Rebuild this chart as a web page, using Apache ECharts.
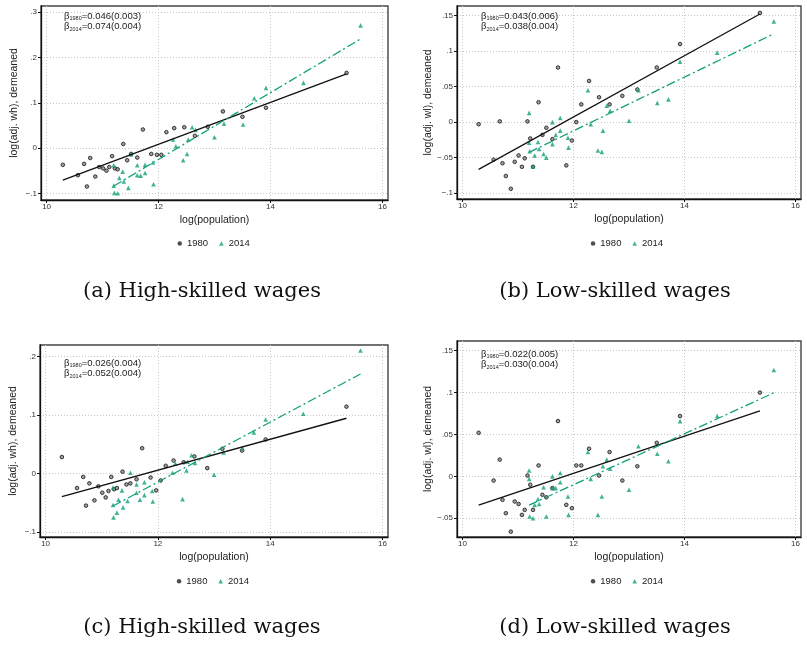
<!DOCTYPE html>
<html><head><meta charset="utf-8">
<script src="https://cdn.jsdelivr.net/npm/echarts@6/dist/echarts.min.js"></script>
<style>html,body{margin:0;padding:0;background:#fff}#c{width:807px;height:645px}</style>
</head><body><div id="c"></div>
<script>
// ---- data ----
const pop1980 = [10.29, 10.56, 10.67, 10.72, 10.78, 10.87, 10.94, 11.01, 11.07, 11.12, 11.17, 11.22, 11.27, 11.37, 11.44, 11.51, 11.62, 11.72, 11.87, 11.97, 12.05, 12.14, 12.28, 12.46, 12.65, 12.88, 13.15, 13.50, 13.92, 15.36];
const pop2014 = [11.20, 11.20, 11.21, 11.27, 11.30, 11.36, 11.38, 11.46, 11.51, 11.62, 11.62, 11.68, 11.76, 11.76, 11.90, 11.91, 12.26, 12.31, 12.44, 12.51, 12.53, 12.60, 12.66, 13.00, 13.17, 13.51, 13.71, 13.92, 14.59, 15.61];

const wageA1980 = [-0.037, -0.060, -0.035, -0.085, -0.022, -0.063, -0.042, -0.045, -0.050, -0.042, -0.018, -0.045, -0.047, 0.009, -0.027, -0.013, -0.021, 0.041, -0.013, -0.015, -0.015, 0.035, 0.044, 0.046, 0.027, 0.047, 0.081, 0.069, 0.089, 0.166];
const wageA2014 = [-0.038, -0.083, -0.099, -0.100, -0.066, -0.052, -0.074, -0.088, -0.014, -0.038, -0.060, -0.061, -0.055, -0.037, -0.032, -0.080, 0.019, 0.004, -0.027, -0.013, 0.019, 0.046, 0.040, 0.024, 0.054, 0.052, 0.110, 0.133, 0.144, 0.271];
const wageB1980 = [-0.003, -0.053, 0.001, -0.058, -0.076, -0.094, -0.056, -0.047, -0.063, -0.051, 0.001, -0.023, -0.063, 0.028, -0.018, -0.008, -0.024, 0.077, -0.061, -0.026, 0.000, 0.025, 0.058, 0.035, 0.025, 0.037, 0.046, 0.077, 0.110, 0.154];
const wageB2014 = [0.013, -0.029, -0.041, -0.063, -0.047, -0.028, -0.038, -0.045, -0.050, 0.000, -0.031, -0.018, 0.006, -0.012, -0.022, -0.036, 0.045, -0.003, -0.040, -0.042, -0.012, 0.023, 0.016, 0.002, 0.045, 0.027, 0.032, 0.085, 0.098, 0.142];
const wageC1980 = [0.028, -0.025, -0.006, -0.055, -0.017, -0.046, -0.022, -0.033, -0.041, -0.030, -0.006, -0.027, -0.025, 0.003, -0.019, -0.017, -0.010, 0.043, -0.007, -0.029, -0.012, 0.013, 0.022, 0.019, 0.029, 0.009, 0.042, 0.039, 0.058, 0.114];
const wageC2014 = [-0.024, -0.054, -0.075, -0.067, -0.045, -0.029, -0.058, -0.047, 0.001, -0.019, -0.033, -0.045, -0.037, -0.015, -0.030, -0.048, 0.001, 0.017, -0.044, 0.005, 0.020, 0.031, 0.018, -0.002, 0.036, 0.043, 0.070, 0.092, 0.102, 0.210];
const wageD1980 = [0.052, -0.005, 0.020, -0.028, -0.044, -0.066, -0.030, -0.033, -0.046, -0.040, 0.001, -0.010, -0.040, 0.013, -0.022, -0.025, -0.014, 0.066, -0.034, -0.038, 0.013, 0.013, 0.033, 0.001, 0.029, -0.005, 0.012, 0.040, 0.072, 0.100];
const wageD2014 = [0.007, -0.003, -0.048, -0.050, -0.034, -0.027, -0.033, -0.013, -0.048, 0.000, -0.014, -0.014, 0.004, -0.007, -0.024, -0.046, 0.029, -0.003, -0.046, -0.024, 0.012, 0.020, 0.009, -0.016, 0.036, 0.027, 0.018, 0.066, 0.072, 0.127];

// fitted lines (slope, intercept) per panel a,b,c,d
const fitSlope1980 = [0.0463, 0.0432, 0.0264, 0.0222];
const fitIntercept1980 = [-0.5474, -0.5112, -0.3113, -0.2628];
const fitSlope2014 = [0.0737, 0.0379, 0.0511, 0.0304];
const fitIntercept2014 = [-0.9094, -0.4671, -0.6279, -0.3748];

const beta1980 = ['0.046(0.003)', '0.043(0.006)', '0.026(0.004)', '0.022(0.005)'];
const beta2014 = ['0.074(0.004)', '0.038(0.004)', '0.052(0.004)', '0.030(0.004)'];

const xTicks = [10, 12, 14, 16];
const yTicksA = [-0.1, 0, 0.1, 0.2, 0.3];
const yTicksB = [-0.1, -0.05, 0, 0.05, 0.1, 0.15];
const yTicksC = [-0.1, 0, 0.1, 0.2];
const yTicksD = [-0.05, 0, 0.05, 0.1, 0.15];

const yTitles = ['log(adj. wh), demeaned', 'log(adj. wl), demeaned', 'log(adj. wh), demeaned', 'log(adj. wl), demeaned'];
const captions = ['(a) High-skilled wages', '(b) Low-skilled wages', '(c) High-skilled wages', '(d) Low-skilled wages'];
const seriesNames = ['1980', '2014'];

// ---- layout ----
const GREEN = '#12a07a';
const TXT = '#222';
const SANS = '"Liberation Sans", Arial, sans-serif';
const layout = [
  {grid: {left: 41, top: 6, width: 347, height: 194}, y: [-0.1148, 0.3139], ticks: yTicksA, w: [wageA1980, wageA2014], cap: [202, 292], leg: [177.5, 238.5], anno: [64, 11]},
  {grid: {left: 457, top: 6, width: 344, height: 193}, y: [-0.1084, 0.1637], ticks: yTicksB, w: [wageB1980, wageB2014], cap: [615, 292], leg: [590.8, 238.5], anno: [481, 11]},
  {grid: {left: 40, top: 345, width: 348, height: 192}, y: [-0.1086, 0.2193], ticks: yTicksC, w: [wageC1980, wageC2014], cap: [202, 628], leg: [176.8, 576.3], anno: [64, 358]},
  {grid: {left: 457, top: 341, width: 344, height: 196}, y: [-0.0724, 0.1616], ticks: yTicksD, w: [wageD1980, wageD2014], cap: [615, 628], leg: [590.8, 576.3], anno: [481, 349]}
];

function fmtTick(v) {
  if (Math.abs(v) < 1e-9) return '0';
  const s = String(Math.abs(v)).replace(/^0/, '');
  return (v < 0 ? '\u2212' : '') + s;
}
function zip(xs, ys) { return xs.map((x, i) => [x, ys[i]]); }
function fitLine(xs, b, a) {
  const lo = Math.min.apply(null, xs), hi = Math.max.apply(null, xs);
  return [[lo, a + b * lo], [hi, a + b * hi]];
}

const grids = [], xAxes = [], yAxes = [], series = [], legends = [], graphics = [];
layout.forEach((p, i) => {
  grids.push(Object.assign({show: true, borderColor: '#444', borderWidth: 1.4, backgroundColor: '#fff', containLabel: false}, p.grid));
  xAxes.push({
    type: 'value', gridIndex: i, min: 9.9, max: 16.1,
    name: 'log(population)', nameLocation: 'middle', nameGap: 15,
    nameTextStyle: {fontFamily: SANS, fontSize: 10.5, color: TXT},
    axisLine: {show: true, onZero: false, lineStyle: {color: '#111', width: 1.3}},
    axisTick: {show: true, length: 3, customValues: xTicks, lineStyle: {color: '#111'}},
    axisLabel: {customValues: xTicks, fontFamily: SANS, fontSize: 8, color: '#333', margin: 3, formatter: v => String(v)},
    splitLine: {show: true, lineStyle: {color: '#c8c8c8', type: [1, 2], width: 1}}
  });
  yAxes.push({
    type: 'value', gridIndex: i, min: p.y[0], max: p.y[1],
    name: yTitles[i], nameLocation: 'middle', nameGap: 21, nameRotate: 90,
    nameTextStyle: {fontFamily: SANS, fontSize: 10.5, color: TXT},
    axisLine: {show: true, onZero: false, lineStyle: {color: '#111', width: 1.3}},
    axisTick: {show: true, length: 3, customValues: p.ticks, lineStyle: {color: '#111'}},
    axisLabel: {customValues: p.ticks, fontFamily: SANS, fontSize: 8, color: '#333', margin: 4, formatter: fmtTick},
    splitLine: {show: true, lineStyle: {color: '#c8c8c8', type: [1, 2], width: 1}}
  });
  series.push({
    name: '1980', type: 'scatter', xAxisIndex: i, yAxisIndex: i, data: zip(pop1980, p.w[0]),
    symbol: 'circle', symbolSize: 3.6,
    itemStyle: {color: '#8a8a8a', borderColor: '#111', borderWidth: 1}
  });
  series.push({
    name: '2014', type: 'scatter', xAxisIndex: i, yAxisIndex: i, data: zip(pop2014, p.w[1]),
    symbol: 'triangle', symbolSize: 4.6,
    itemStyle: {color: GREEN}
  });
  series.push({
    name: 'fit1980_' + i, type: 'line', xAxisIndex: i, yAxisIndex: i, silent: true,
    data: fitLine(pop1980, fitSlope1980[i], fitIntercept1980[i]), symbol: 'none',
    lineStyle: {color: '#111', width: 1.3}, z: 3
  });
  series.push({
    name: 'fit2014_' + i, type: 'line', xAxisIndex: i, yAxisIndex: i, silent: true,
    data: fitLine(pop2014, fitSlope2014[i], fitIntercept2014[i]), symbol: 'none',
    lineStyle: {color: GREEN, width: 1.3, type: [9, 3, 2, 3]}, z: 3
  });
  legends.push({
    left: p.leg[0], top: p.leg[1], orient: 'horizontal', padding: 0,
    itemWidth: 4.5, itemHeight: 4.5, itemGap: 11,
    textStyle: {fontFamily: SANS, fontSize: 9.5, color: TXT},
    data: [{name: seriesNames[0], icon: 'circle', itemStyle: {color: '#222', borderWidth: 0}}, {name: seriesNames[1], icon: 'triangle'}],
    selectedMode: false
  });
  graphics.push({
    type: 'text', x: p.anno[0], y: p.anno[1], z: 50,
    style: {
      text: '{b|\u03b2}{s|1980}{n|=' + beta1980[i] + '}\n{b|\u03b2}{s|2014}{n|=' + beta2014[i] + '}',
      rich: {
        b: {fontFamily: SANS, fontSize: 9.5, fill: TXT, lineHeight: 10.5},
        s: {fontFamily: SANS, fontSize: 5.5, fill: TXT, verticalAlign: 'bottom', lineHeight: 10.5},
        n: {fontFamily: SANS, fontSize: 9.5, fill: TXT, lineHeight: 10.5}
      }
    }
  });
  graphics.push({
    type: 'text', x: p.cap[0], y: p.cap[1], z: 50,
    style: {text: captions[i], align: 'center', verticalAlign: 'middle', font: '21px "DejaVu Serif", serif', fill: '#111'}
  });
});

const chart = echarts.init(document.getElementById('c'), null, {renderer: 'canvas'});
chart.setOption({
  backgroundColor: '#fff', animation: false,
  grid: grids, xAxis: xAxes, yAxis: yAxes, series: series, legend: legends, graphic: graphics
});
</script></body></html>
